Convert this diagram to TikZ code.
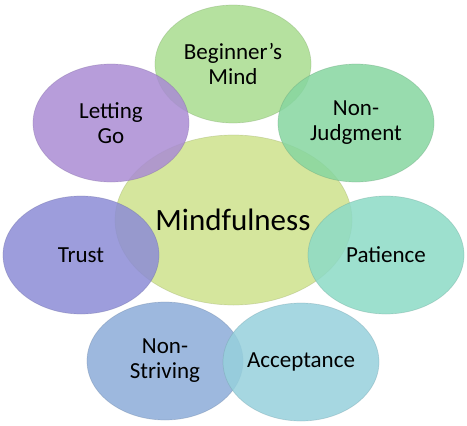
\documentclass[tikz,border=0pt]{standalone}
\usepackage{fontspec}
\setmainfont{Carlito}
\usetikzlibrary{shapes.geometric}

\definecolor{mindcol}{RGB}{206,226,140}
\definecolor{begcol}{RGB}{168,220,142}
\definecolor{judgecol}{RGB}{134,214,160}
\definecolor{patcol}{RGB}{140,218,198}
\definecolor{acccol}{RGB}{150,208,220}
\definecolor{strivecol}{RGB}{140,172,216}
\definecolor{trustcol}{RGB}{140,140,214}
\definecolor{letcol}{RGB}{170,140,212}

\begin{document}
\begin{tikzpicture}[x=1pt, y=-1pt]
	\tikzset {petal/.style={ellipse, minimum width=156pt, minimum height=118pt, inner sep=0pt, align=center,
			fill=#1, draw=#1!75!black, line width=0.7pt, draw opacity=0.35, fill opacity=0.85, text opacity=1,
			font=\fontsize{23}{25}\selectfont}}

	\useasboundingbox (0,0) rectangle (467,426);

	\node[petal=mindcol, minimum width=237pt, minimum height=170pt] (mind) at (233.5,220) {};
	\node[font=\fontsize{31}{33}\selectfont, anchor=base] (mindtext) at (233,230) {Mindfulness};
	\node[petal=begcol] (beg) at (233,64) {Beginner’s\\Mind};
	\node[petal=judgecol] (judge) at (356,123) {Non-\\Judgment};
	\node[petal=letcol] (letgo) at (111,123) {Letting\\Go};
	\node[petal=trustcol] (trust) at (81,255) {Trust};
	\node[petal=patcol] (pat) at (386,255) {Patience};
	\node[petal=strivecol] (strive) at (165,361) {Non-\\Striving};
	\node[petal=acccol] (accept) at (301,362) {Acceptance};
\end{tikzpicture}
\end{document}
